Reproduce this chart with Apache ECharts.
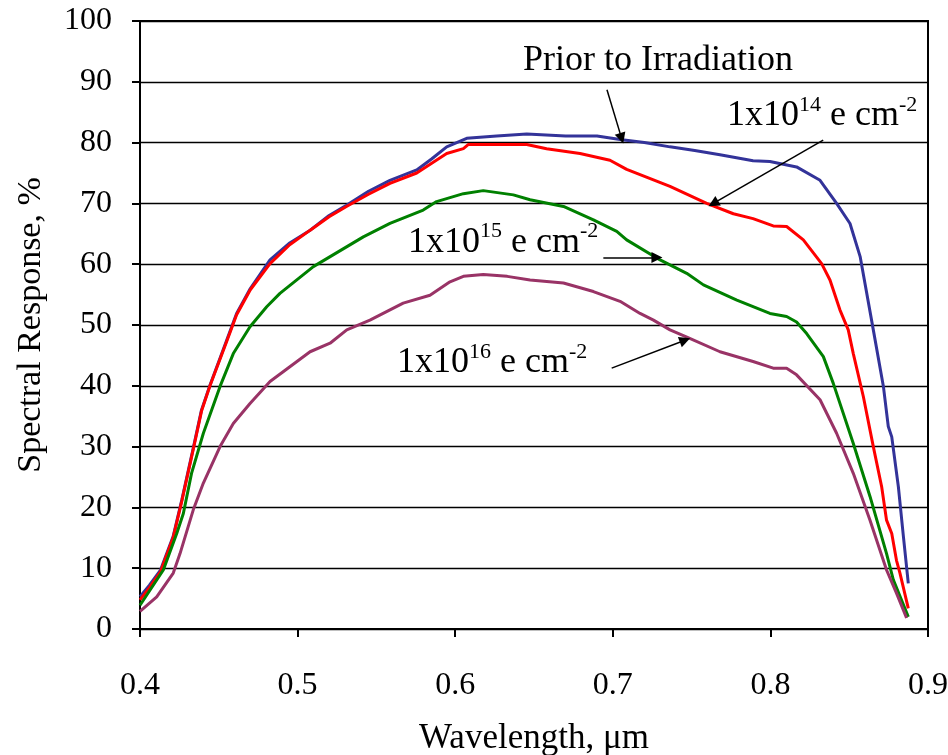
<!DOCTYPE html>
<html>
<head>
<meta charset="utf-8">
<script src="https://cdn.jsdelivr.net/npm/echarts@6/dist/echarts.min.js"></script>
<style>
html, body { margin: 0; background: #fff; }
#chart { width: 948px; height: 755px; }
</style>
</head>
<body>
<div id="chart"></div>
<script>
// wavelength (um) / spectral response (%)
var priorWl = [0.400, 0.406, 0.413, 0.421, 0.4265, 0.434, 0.439, 0.4444, 0.455, 0.4613, 0.470, 0.4825, 0.495, 0.508, 0.520, 0.531, 0.545, 0.5586, 0.5756, 0.585, 0.5946, 0.6073, 0.6263, 0.6454, 0.670, 0.690, 0.7046, 0.720, 0.7363, 0.752, 0.768, 0.789, 0.7997, 0.8166, 0.8315, 0.842, 0.8505, 0.857, 0.8653, 0.8717, 0.8748, 0.877, 0.8812, 0.8844, 0.8875];
var priorResp = [5.3, 7.2, 9.7, 15.2, 21.2, 30.0, 36.0, 40.1, 47.5, 51.9, 56.0, 60.7, 63.5, 65.6, 68.0, 69.7, 72.0, 73.8, 75.5, 77.3, 79.3, 80.7, 81.1, 81.4, 81.1, 81.1, 80.5, 80.0, 79.3, 78.7, 78.0, 77.0, 76.9, 76.0, 73.8, 70.0, 66.7, 61.2, 49.2, 39.9, 33.3, 31.6, 23.4, 15.2, 7.5];

var e14Wl = [0.400, 0.406, 0.413, 0.421, 0.4265, 0.434, 0.439, 0.4444, 0.455, 0.4613, 0.470, 0.4825, 0.495, 0.508, 0.520, 0.531, 0.545, 0.5586, 0.5756, 0.5946, 0.6052, 0.6084, 0.6454, 0.658, 0.6792, 0.6982, 0.7088, 0.7363, 0.7596, 0.7765, 0.789, 0.8018, 0.8103, 0.8209, 0.8325, 0.8378, 0.8441, 0.8494, 0.8526, 0.859, 0.8653, 0.8706, 0.8737, 0.877, 0.880, 0.8822, 0.8875];
var e14Resp = [4.8, 6.8, 9.4, 15.0, 21.0, 29.8, 35.8, 40.0, 47.3, 51.7, 55.8, 60.1, 63.2, 65.6, 67.8, 69.5, 71.5, 73.3, 75.0, 78.2, 79.0, 79.7, 79.7, 79.0, 78.2, 77.1, 75.6, 72.8, 70.0, 68.3, 67.5, 66.3, 66.2, 64.0, 60.1, 57.4, 52.5, 49.2, 45.3, 38.2, 30.0, 23.4, 17.9, 15.7, 11.3, 9.2, 3.4];

var e15Wl = [0.400, 0.4148, 0.4233, 0.4275, 0.4327, 0.4402, 0.4508, 0.4592, 0.4698, 0.4804, 0.4888, 0.510, 0.5417, 0.5586, 0.5797, 0.5882, 0.6052, 0.6178, 0.6369, 0.6475, 0.6687, 0.6877, 0.7025, 0.7088, 0.730, 0.7469, 0.7575, 0.7787, 0.7997, 0.8103, 0.8166, 0.823, 0.8336, 0.8399, 0.8526, 0.8632, 0.8737, 0.878, 0.8875];
var e15Resp = [3.9, 9.7, 15.7, 19.0, 25.6, 32.2, 39.9, 45.3, 49.7, 53.0, 55.2, 59.6, 64.5, 66.7, 68.9, 70.3, 71.6, 72.1, 71.4, 70.6, 69.5, 67.3, 65.4, 64.0, 60.7, 58.5, 56.6, 54.1, 51.9, 51.4, 50.5, 48.6, 44.8, 40.4, 30.5, 21.8, 12.4, 8.1, 2.0];

var e16Wl = [0.400, 0.4106, 0.4211, 0.4254, 0.4338, 0.4402, 0.4508, 0.4592, 0.4698, 0.4825, 0.5079, 0.5206, 0.5312, 0.5459, 0.567, 0.584, 0.5967, 0.6052, 0.6178, 0.633, 0.6475, 0.6687, 0.6877, 0.7046, 0.7173, 0.7258, 0.7363, 0.747, 0.768, 0.789, 0.8018, 0.8103, 0.8166, 0.8315, 0.842, 0.8526, 0.8632, 0.8737, 0.880, 0.8864];
var e16Resp = [2.9, 5.3, 9.2, 12.4, 19.6, 24.0, 30.0, 33.8, 37.1, 40.7, 45.6, 47.0, 49.2, 50.8, 53.6, 54.9, 57.1, 58.0, 58.3, 58.0, 57.4, 56.9, 55.5, 53.9, 51.9, 50.8, 49.2, 48.0, 45.6, 44.0, 42.9, 42.9, 41.8, 37.7, 32.2, 25.6, 17.9, 9.7, 5.9, 1.8];

var seriesNames = ['Prior to Irradiation', '1x10^14 e cm^-2', '1x10^15 e cm^-2', '1x10^16 e cm^-2'];
var seriesColors = ['#333399', '#ff0000', '#008000', '#993366'];

// annotation labels (rich text) and where they sit, in data units (text baseline, left edge)
var noteLabels = [
    '{n|Prior to Irradiation}',
    '{n|1x10}{s|14}{n| e cm}{s|-2}',
    '{n|1x10}{s|15}{n| e cm}{s|-2}',
    '{n|1x10}{s|16}{n| e cm}{s|-2}'
];
var noteAt = [[0.643, 92.0], [0.7725, 82.9], [0.570, 62.1], [0.5631, 42.3]];
var arrowFrom = [[0.6963, 88.7], [0.8335, 80.4], [0.694, 61.1], [0.6993, 42.9]];
var arrowTo = [[0.7056, 80.7], [0.7638, 70.0], [0.728, 61.1], [0.7458, 47.5]];

var FONT = '"Liberation Serif", "Times New Roman", serif';

function pairs(xs, ys) {
    var d = [];
    for (var i = 0; i < xs.length; i++) {
        d.push([xs[i], ys[i]]);
    }
    return d;
}

var curves = [
    pairs(priorWl, priorResp),
    pairs(e14Wl, e14Resp),
    pairs(e15Wl, e15Resp),
    pairs(e16Wl, e16Resp)
];

var series = [];
for (var i = 0; i < curves.length; i++) {
    series.push({
        name: seriesNames[i],
        type: 'line',
        data: curves[i],
        showSymbol: false,
        symbol: 'none',
        lineStyle: { color: seriesColors[i], width: 3 },
        z: 3
    });
}

var arrowData = [];
for (var j = 0; j < arrowFrom.length; j++) {
    arrowData.push({ coords: [arrowFrom[j], arrowTo[j]] });
}
series.push({
    type: 'lines',
    coordinateSystem: 'cartesian2d',
    data: arrowData,
    symbol: ['none', 'triangle'],
    symbolSize: 11,
    lineStyle: { color: '#000', width: 1.5, opacity: 1 },
    itemStyle: { color: '#000' },
    z: 4
});

var option = {
    animation: false,
    backgroundColor: '#fff',
    grid: {
        left: 140,
        right: 20,
        top: 21,
        bottom: 126,
        containLabel: false,
        outerBoundsMode: 'none',
        show: true,
        borderColor: '#000',
        borderWidth: 2
    },
    xAxis: {
        type: 'value',
        min: 0.4,
        max: 0.9,
        interval: 0.1,
        name: 'Wavelength, \u03bcm',
        nameLocation: 'middle',
        nameGap: 92,
        nameTextStyle: { fontFamily: FONT, fontSize: 35, color: '#000' },
        axisLine: { lineStyle: { color: '#000', width: 2 } },
        axisTick: { inside: false, length: 8, lineStyle: { color: '#000', width: 2 } },
        axisLabel: {
            margin: 41,
            fontFamily: FONT,
            fontSize: 32,
            color: '#000',
            formatter: function (v) { return v.toFixed(1); }
        },
        splitLine: { show: false }
    },
    yAxis: {
        type: 'value',
        min: 0,
        max: 100,
        interval: 10,
        name: 'Spectral Response, %',
        nameLocation: 'middle',
        nameGap: 92,
        nameTextStyle: { fontFamily: FONT, fontSize: 34, color: '#000' },
        axisLine: { lineStyle: { color: '#000', width: 2 } },
        axisTick: { inside: false, length: 8, lineStyle: { color: '#000', width: 2 } },
        axisLabel: { margin: 28, fontFamily: FONT, fontSize: 32, color: '#000' },
        splitLine: { show: true, lineStyle: { color: '#000', width: 1.3 } }
    },
    series: series
};

var myChart = echarts.init(document.getElementById('chart'));
myChart.setOption(option);

// place the annotation text through the chart's own coordinate system
var graphics = [];
for (var k = 0; k < noteLabels.length; k++) {
    var p = myChart.convertToPixel({ gridIndex: 0 }, noteAt[k]);
    graphics.push({
        type: 'text',
        x: p[0],
        y: p[1] + 9,
        z: 10,
        style: {
            text: noteLabels[k],
            align: 'left',
            verticalAlign: 'bottom',
            fill: '#000',
            rich: {
                n: { fontFamily: FONT, fontSize: 36, lineHeight: 40, verticalAlign: 'bottom', fill: '#000' },
                s: { fontFamily: FONT, fontSize: 22, lineHeight: 34, verticalAlign: 'top', fill: '#000' }
            }
        }
    });
}
myChart.setOption({ graphic: graphics });
</script>
</body>
</html>
